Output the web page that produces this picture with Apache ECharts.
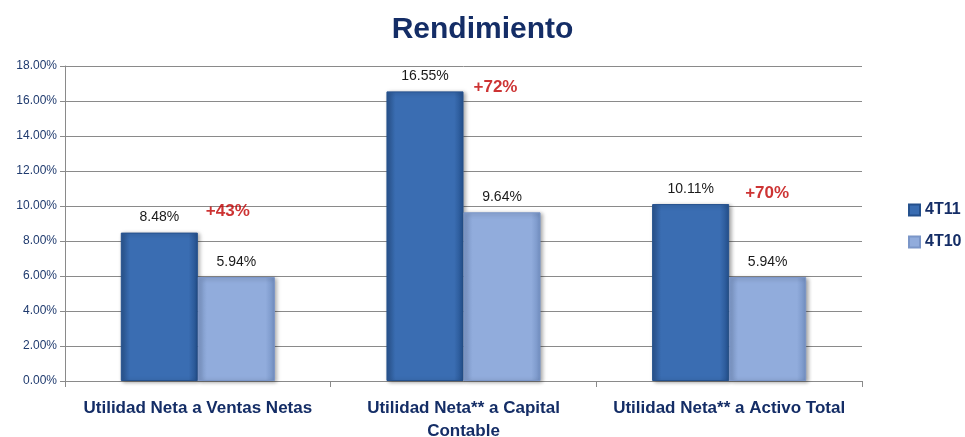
<!DOCTYPE html>
<html><head><meta charset="utf-8">
<script src="https://cdn.jsdelivr.net/npm/echarts@6/dist/echarts.min.js"></script>
<style>html,body{margin:0;padding:0;background:#fff}#c{width:965px;height:437px}</style>
</head><body><div id="c"></div>
<script>
const categories = ['Utilidad Neta a Ventas Netas', 'Utilidad Neta** a Capital\nContable', 'Utilidad Neta** a Activo Total'];
const s4T11 = [8.48, 16.55, 10.11];
const s4T10 = [5.94, 9.64, 5.94];
const growthLabels = ['+43%', '+72%', '+70%'];
const growthLevels = [9.7, 16.8, 10.75];
const yTicks = [0, 2, 4, 6, 8, 10, 12, 14, 16, 18];

const font = "'Liberation Sans',Arial,sans-serif";
const chart = echarts.init(document.getElementById('c'));
const grad = (c1, c2, c3) => ({type:'linear', x:0, y:0, x2:1, y2:0, colorStops:[
  {offset:0, color:c1},{offset:0.12, color:c2},{offset:0.88, color:c2},{offset:1, color:c3}]});
const offsets = [[30,0],[32,0],[38,0]];
chart.setOption({
  animation:false,
  title:{text:'Rendimiento', left:'center', top:10,
    textStyle:{fontFamily:font, fontWeight:'bold', fontSize:30, color:'#142d66'}},
  legend:{orient:'vertical', left:903, top:197, itemGap:16, itemWidth:11, itemHeight:11, icon:'rect',
    textStyle:{fontFamily:font, fontWeight:'bold', fontSize:16, color:'#142d66'},
    data:['4T11','4T10']},
  grid:{left:65, right:103, top:66, bottom:56, outerBoundsMode:'none', containLabel:false},
  xAxis:{type:'category', data:categories,
    axisLine:{lineStyle:{color:'#8a8a8a'}},
    axisTick:{show:true, interval:0, length:6, lineStyle:{color:'#8a8a8a'}},
    axisLabel:{interval:0, fontFamily:font, fontWeight:'bold', fontSize:17, color:'#142d66', margin:16, lineHeight:23}},
  yAxis:{type:'value', min:0, max:18, interval:2,
    axisLine:{show:true, lineStyle:{color:'#8a8a8a'}},
    axisTick:{show:true, length:5, lineStyle:{color:'#8a8a8a'}},
    splitLine:{lineStyle:{color:'#8a8a8a'}},
    axisLabel:{fontFamily:font, fontSize:12, color:'#1f3a6e', margin:8,
      formatter:v => yTicks.includes(v) ? v.toFixed(2) + '%' : ''}},
  series:[
    {name:'4T11', type:'bar', data:s4T11, barGap:'0%', barCategoryGap:'42%',
      itemStyle:{color:grad('#2a5590','#3a6db2','#24508c'), borderColor:'#25518d', borderWidth:1,
        shadowColor:'rgba(0,0,0,0.35)', shadowBlur:4, shadowOffsetX:2, shadowOffsetY:1},
      label:{show:true, position:'top', distance:8, fontFamily:font, fontSize:14, color:'#1a1a1a',
        formatter:p => p.value.toFixed(2) + '%'}},
    {name:'4T10', type:'bar', data:s4T10,
      itemStyle:{color:grad('#7d98c8','#91acdc','#7390c2'), borderColor:'#7b96c8', borderWidth:1,
        shadowColor:'rgba(0,0,0,0.35)', shadowBlur:4, shadowOffsetX:2, shadowOffsetY:1},
      label:{show:true, position:'top', distance:8, fontFamily:font, fontSize:14, color:'#1a1a1a',
        formatter:p => p.value.toFixed(2) + '%'}},
    {name:'growth', type:'scatter', symbolSize:0, silent:true,
      data:growthLevels.map((v,i) => ({value:v, label:{offset:offsets[i]}})),
      label:{show:true, position:'inside', fontFamily:font, fontWeight:'bold', fontSize:17, color:'#c00000',
        formatter:p => growthLabels[p.dataIndex]}}
  ]
});
</script></body></html>
